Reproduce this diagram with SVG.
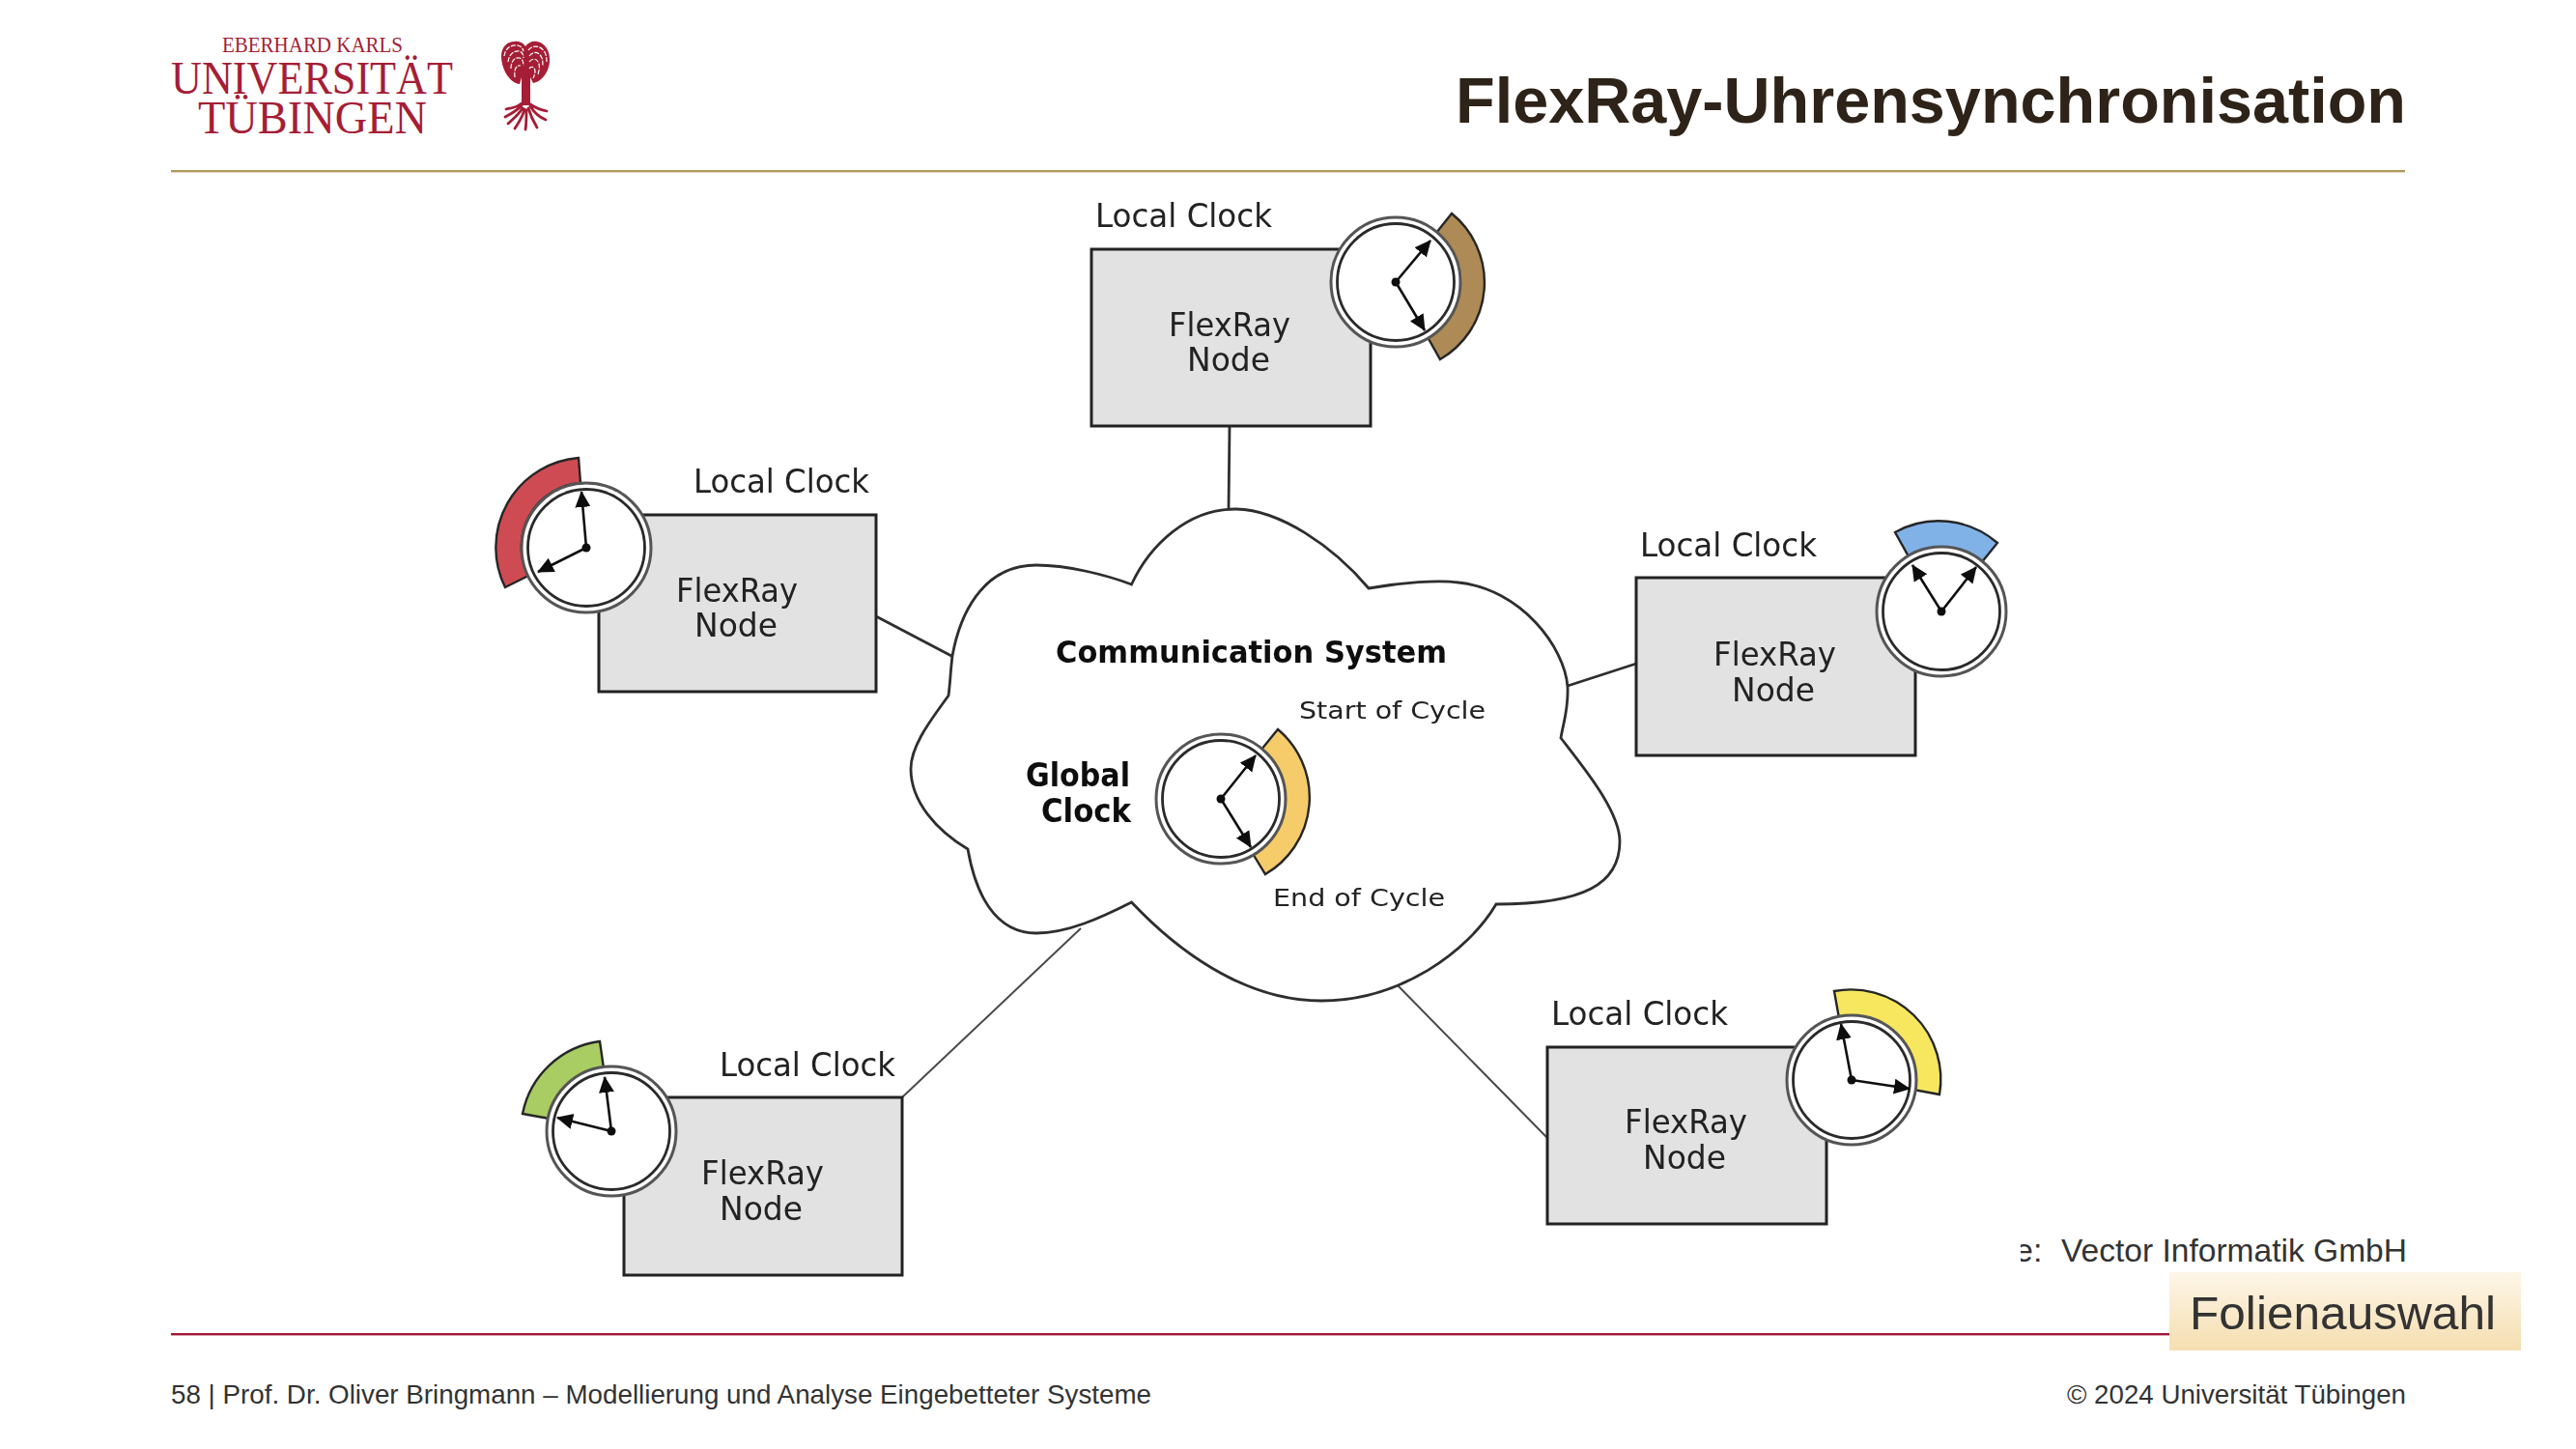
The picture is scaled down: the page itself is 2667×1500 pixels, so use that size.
<svg xmlns="http://www.w3.org/2000/svg" xmlns:xlink="http://www.w3.org/1999/xlink" width="2667" height="1500" viewBox="0 0 2667 1500">
<style>
.bg{fill:#fff}
.sans{font-family:"Liberation Sans",Arial,sans-serif}
.logo{font-family:"Liberation Serif","Times New Roman",serif;fill:#a51e36}
.title{font-size:66px;font-weight:700;fill:#2e2318}
.foot{font-size:27.5px;fill:#333}
.src{font-size:34px;fill:#333}
.dia{font-family:"DejaVu Sans",Verdana,sans-serif;fill:#222}
.lc{font-size:33px}
.fx{font-size:33px}
.b{font-weight:700;fill:#111}
.sm{font-size:25px}
.box{fill:#e2e2e2;stroke:#222;stroke-width:3}
.ring1{fill:#fff;stroke:#555;stroke-width:3}
.ring2{fill:#fff;stroke:#2a2a2a;stroke-width:2.8}
.sector{stroke:#262626;stroke-width:2.4}
.hand{stroke:#111;stroke-width:2.6;fill:none;marker-end:url(#ah)}
.dot{fill:#111}
.link{stroke:#2e2e2e;stroke-width:2.8;fill:none}
.thin{stroke:#4a4a4a;stroke-width:2}
.cloud{fill:#fff;stroke:#2e2e2e;stroke-width:2.8}
.soft{filter:url(#soft)}
.lobe{fill:#a51e36}
.gap{fill:none;stroke:#fff;stroke-width:1.2;stroke-dasharray:5 1.4}
.root{fill:none;stroke:#a51e36;stroke-width:2.8;stroke-linecap:round}
</style>
<defs>
<filter id="soft" x="-5%" y="-5%" width="110%" height="110%"><feGaussianBlur stdDeviation="0.6"/></filter>
<marker id="ah" markerUnits="userSpaceOnUse" markerWidth="20" markerHeight="18" refX="16" refY="8" orient="auto"><path d="M0 0L17 8L0 16Z" fill="#111"/></marker>
<linearGradient id="btn" x1="0" y1="0" x2="0" y2="1"><stop offset="0" stop-color="#fdf6e8"/><stop offset="1" stop-color="#f5deb0"/></linearGradient>
<clipPath id="srcclip"><rect x="2092" y="1270" width="60" height="50"/></clipPath>
<g id="ring"><circle class="ring1" r="67"/><circle class="ring2" r="60.5"/></g>
</defs>
<rect class="bg" width="2667" height="1500"/>

<g id="logo">
<text class="logo"><tspan x="230" y="54" font-size="24" textLength="187" lengthAdjust="spacingAndGlyphs">EBERHARD KARLS</tspan><tspan x="177" y="97" font-size="49" textLength="292" lengthAdjust="spacingAndGlyphs">UNIVERSITÄT</tspan><tspan x="205" y="138" font-size="49" textLength="237" lengthAdjust="spacingAndGlyphs">TÜBINGEN</tspan></text>
<g id="tree">
<path class="lobe" d="M538 87C528 86 519 72 519 58C519 48 526 43 532 43C538 42 542 45 544 48C547 44 551 42 556 43C564 44 570 53 569 64C568 74 562 84 552 86L549 80L549 109L540 109L540 80Z"/>
<path class="gap" d="M522 58C523 50 529 46 536 47C540 48 541 50 542 53M526 64C527 56 532 52 538 53C541 54 542 57 542 60M529 71C529 63 533 59 538 60C541 61 542 64 542 68M533 80C532 71 535 67 539 68M547 52C551 46 560 47 564 54C566 58 566 61 566 64M548 58C552 53 558 53 561 60C562 63 562 66 562 69M548 64C551 60 556 60 558 66C559 70 558 73 557 77M548 71C550 68 553 69 554 73C554 76 553 79 552 81"/>
<path class="root" d="M540 107C534 112 528 112 524 113M540 109C534 116 528 118 523 121M541 112C536 120 530 124 526 128M543 113C541 122 536 128 533 133M545 114C545 122 545 128 544 134M547 112C550 122 553 127 556 132M549 110C554 118 560 122 565 124M549 108C555 112 561 114 566 115"/>
</g>
</g>
<text class="sans title" x="1507" y="127" textLength="984" lengthAdjust="spacingAndGlyphs">FlexRay-Uhrensynchronisation</text>
<rect x="177" y="176" width="2313" height="2.4" fill="#b39c62"/>

<g id="connectors" class="soft">
<path class="link" d="M1273 441L1272 527"/>
<path class="link" d="M907 638L987 680"/>
<path class="link" d="M1694 687L1623 710"/>
<path class="link thin" d="M934 1136L1119 961"/>
<path class="link thin" d="M1602 1178L1445 1018"/>
</g>

<g id="cloud" class="soft">
<path class="cloud" d="M1280 527C1325 528 1380 565 1417 609C1450 603 1490 600 1510 603C1575 610 1620 670 1623 711C1624 735 1618 750 1616 764C1640 795 1677 840 1677 871C1677 915 1640 936 1549 936C1520 985 1450 1036 1368 1036C1285 1036 1215 980 1171.500 934C1140 950 1105 966 1073 966C1030 966 1010 925 1002 879C970 860 943 830 943 796C943 770 968 740 982 720C984 705 984 695 986 679C993 640 1015 585 1073 585C1105 585 1145 595 1171.500 605C1190 565 1230 526 1280 527Z"/>
<text class="dia b" x="1093" y="686" font-size="32" textLength="405" lengthAdjust="spacingAndGlyphs">Communication System</text>
<text class="dia sm" x="1345" y="744" textLength="193" lengthAdjust="spacingAndGlyphs">Start of Cycle</text>
<text class="dia sm" x="1318" y="938" textLength="178" lengthAdjust="spacingAndGlyphs">End of Cycle</text>
<text class="dia b" x="1062" y="814" font-size="33" textLength="108" lengthAdjust="spacingAndGlyphs">Global</text>
<text class="dia b" x="1078" y="851" font-size="33" textLength="93" lengthAdjust="spacingAndGlyphs">Clock</text>
<path class="sector" fill="#f6cb6a" d="M1323 755A92 92 0 0 1 1310 905L1296 882A66 66 0 0 0 1305 777Z"/>
<use xlink:href="#ring" href="#ring" x="1264" y="827"/>
<path class="hand" d="M1264 827L1300 782"/>
<path class="hand" d="M1264 827L1295 877"/>
<circle class="dot" cx="1264" cy="827" r="4.500"/>
</g>

<g id="node-top" class="soft">
<rect class="box" x="1130" y="258" width="289" height="183"/>
<text class="dia lc" x="1134" y="235" textLength="183" lengthAdjust="spacingAndGlyphs">Local Clock</text>
<text class="dia fx" x="1210" y="348" textLength="126" lengthAdjust="spacingAndGlyphs">FlexRay</text>
<text class="dia fx" x="1229" y="384" textLength="86" lengthAdjust="spacingAndGlyphs">Node</text>
<path class="sector" fill="#ae8a57" d="M1503 221A92 92 0 0 1 1491 372L1478 349A66 66 0 0 0 1487 241Z"/>
<use xlink:href="#ring" href="#ring" x="1445" y="292"/>
<path class="hand" d="M1445 292L1481 249"/>
<path class="hand" d="M1445 292L1475 342"/>
<circle class="dot" cx="1445" cy="292" r="4.500"/>
</g>

<g id="node-left" class="soft">
<rect class="box" x="620" y="533" width="287" height="183"/>
<text class="dia lc" x="718" y="510" textLength="182" lengthAdjust="spacingAndGlyphs">Local Clock</text>
<text class="dia fx" x="700" y="623" textLength="126" lengthAdjust="spacingAndGlyphs">FlexRay</text>
<text class="dia fx" x="719" y="659" textLength="86" lengthAdjust="spacingAndGlyphs">Node</text>
<path class="sector" fill="#cf4b52" d="M599 474A93 93 0 0 0 523 608L547 596A66 66 0 0 1 601 500Z"/>
<use xlink:href="#ring" href="#ring" x="607" y="567"/>
<path class="hand" d="M607 567L602 509"/>
<path class="hand" d="M607 567L557 592"/>
<circle class="dot" cx="607" cy="567" r="4.500"/>
</g>

<g id="node-right" class="soft">
<rect class="box" x="1694" y="598" width="289" height="184"/>
<text class="dia lc" x="1698" y="576" textLength="183" lengthAdjust="spacingAndGlyphs">Local Clock</text>
<text class="dia fx" x="1774" y="689" textLength="127" lengthAdjust="spacingAndGlyphs">FlexRay</text>
<text class="dia fx" x="1793" y="726" textLength="86" lengthAdjust="spacingAndGlyphs">Node</text>
<path class="sector" fill="#80b2e8" d="M1962 551A93 93 0 0 1 2068 562L2051 583A66 66 0 0 0 1976 576Z"/>
<use xlink:href="#ring" href="#ring" x="2010" y="633"/>
<path class="hand" d="M2010 633L1980 585"/>
<path class="hand" d="M2010 633L2046 587"/>
<circle class="dot" cx="2010" cy="633" r="4.500"/>
</g>

<g id="node-bottom-left" class="soft">
<rect class="box" x="646" y="1136" width="288" height="184"/>
<text class="dia lc" x="745" y="1114" textLength="182" lengthAdjust="spacingAndGlyphs">Local Clock</text>
<text class="dia fx" x="726" y="1226" textLength="127" lengthAdjust="spacingAndGlyphs">FlexRay</text>
<text class="dia fx" x="745" y="1263" textLength="86" lengthAdjust="spacingAndGlyphs">Node</text>
<path class="sector" fill="#a9cd62" d="M621 1078A94 94 0 0 0 541 1153L569 1158A66 66 0 0 1 625 1106Z"/>
<use xlink:href="#ring" href="#ring" x="633" y="1171"/>
<path class="hand" d="M633 1171L626 1115"/>
<path class="hand" d="M633 1171L577 1157"/>
<circle class="dot" cx="633" cy="1171" r="4.500"/>
</g>

<g id="node-bottom-right" class="soft">
<rect class="box" x="1602" y="1084" width="289" height="183"/>
<text class="dia lc" x="1606" y="1061" textLength="183" lengthAdjust="spacingAndGlyphs">Local Clock</text>
<text class="dia fx" x="1682" y="1173" textLength="127" lengthAdjust="spacingAndGlyphs">FlexRay</text>
<text class="dia fx" x="1701" y="1210" textLength="86" lengthAdjust="spacingAndGlyphs">Node</text>
<path class="sector" fill="#f6e75f" d="M1899 1026A93 93 0 0 1 2008 1133L1981 1128A66 66 0 0 0 1904 1054Z"/>
<use xlink:href="#ring" href="#ring" x="1917" y="1118"/>
<path class="hand" d="M1917 1118L1906 1060"/>
<path class="hand" d="M1917 1118L1977 1127"/>
<circle class="dot" cx="1917" cy="1118" r="4.500"/>
</g>

<g clip-path="url(#srcclip)"><text class="sans src" x="2086" y="1306">e:</text></g>
<text class="sans src" x="2134" y="1306" textLength="358" lengthAdjust="spacingAndGlyphs">Vector Informatik GmbH</text>
<rect x="177" y="1380" width="2069" height="2.400" fill="#a5183a"/>
<g id="folienauswahl">
<rect x="2246" y="1317" width="364" height="81" fill="url(#btn)"/>
<text class="sans" x="2267" y="1376" font-size="49" fill="#333" textLength="317" lengthAdjust="spacingAndGlyphs">Folienauswahl</text>
</g>
<text class="sans foot" x="177" y="1453" textLength="1015" lengthAdjust="spacingAndGlyphs">58 | Prof. Dr. Oliver Bringmann – Modellierung und Analyse Eingebetteter Systeme</text>
<text class="sans foot" x="2140" y="1453" textLength="351" lengthAdjust="spacingAndGlyphs">© 2024 Universität Tübingen</text>
</svg>
